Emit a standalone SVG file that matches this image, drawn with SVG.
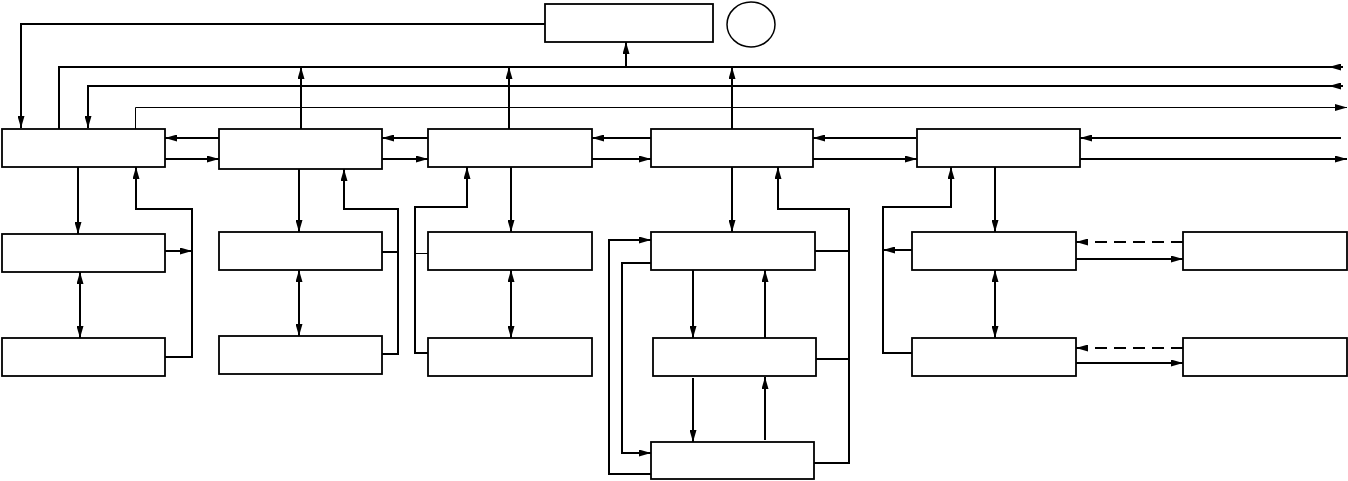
<svg xmlns="http://www.w3.org/2000/svg" width="1348" height="481" viewBox="0 0 1348 481">
<style>
.n{fill:#fff;stroke:#000;stroke-width:1.8}
.c{fill:none;stroke:#000;stroke-width:2}
.t{fill:none;stroke:#000;stroke-width:1}
.d{fill:none;stroke:#000;stroke-width:2;stroke-dasharray:12 7}
.a{marker-end:url(#ah)}
.b{marker-start:url(#ah);marker-end:url(#ah)}
</style>
<defs>
<marker id="ah" viewBox="0 0 12 7" refX="12" refY="3.5" markerWidth="12" markerHeight="7" markerUnits="userSpaceOnUse" orient="auto-start-reverse">
<path d="M0,0 L12,3.5 L0,7 z" fill="#000"/>
</marker>
</defs>
<rect width="1348" height="481" fill="#fff"/>
<g id="nodes">
<g id="top"><rect class="n" x="545" y="4" width="168" height="38"/></g>
<g id="circle"><ellipse cx="751" cy="24.5" rx="24" ry="22.5" fill="#fff" stroke="#000" stroke-width="1.5"/></g>
<g id="m1"><rect class="n" x="2" y="129" width="163" height="38"/></g>
<g id="m2"><rect class="n" x="219" y="129" width="163" height="40"/></g>
<g id="m3"><rect class="n" x="428" y="129" width="164" height="38"/></g>
<g id="m4"><rect class="n" x="651" y="129" width="162" height="38"/></g>
<g id="m5"><rect class="n" x="917" y="129" width="163" height="38"/></g>
<g id="s1a"><rect class="n" x="2" y="234" width="163" height="38"/></g>
<g id="s1b"><rect class="n" x="2" y="338" width="163" height="38"/></g>
<g id="s2a"><rect class="n" x="219" y="232" width="163" height="38"/></g>
<g id="s2b"><rect class="n" x="219" y="336" width="163" height="38"/></g>
<g id="s3a"><rect class="n" x="428" y="232" width="164" height="38"/></g>
<g id="s3b"><rect class="n" x="428" y="338" width="164" height="38"/></g>
<g id="s4a"><rect class="n" x="651" y="232" width="164" height="38"/></g>
<g id="s4b"><rect class="n" x="653" y="338" width="163" height="38"/></g>
<g id="s4c"><rect class="n" x="651" y="442" width="163" height="37"/></g>
<g id="s5a"><rect class="n" x="912" y="232" width="164" height="38"/></g>
<g id="s5b"><rect class="n" x="912" y="338" width="164" height="38"/></g>
<g id="s5c"><rect class="n" x="1183" y="232" width="164" height="38"/></g>
<g id="s5d"><rect class="n" x="1183" y="338" width="164" height="38"/></g>
</g>
<g id="connectors">
<path class="c a" d="M545,24 H21 V128"/>
<path class="c" d="M1343,67 H59 V129"/>
<path class="c a" d="M1343,67 H1329"/>
<path class="c a" d="M301,129 V67"/>
<path class="c a" d="M509,129 V67"/>
<path class="c a" d="M732,129 V67"/>
<path class="c a" d="M626,67 V42"/>
<path class="c a" d="M1343,86 H88 V128"/>
<path class="c a" d="M1343,86 H1329"/>
<path class="t a" d="M135.5,129 V107.5 H1347"/>
<path class="c a" d="M219,138 H165"/>
<path class="c a" d="M165,159 H219"/>
<path class="c a" d="M428,138 H382"/>
<path class="c a" d="M382,159 H428"/>
<path class="c a" d="M651,138 H592"/>
<path class="c a" d="M592,159 H651"/>
<path class="c a" d="M916,138 H813"/>
<path class="c a" d="M813,159 H917"/>
<path class="c a" d="M1341,138 H1080"/>
<path class="c a" d="M1080,159 H1347"/>
<path class="c a" d="M78,167 V234"/>
<path class="c b" d="M80,272 V338"/>
<path class="c a" d="M165,251 H192"/>
<path class="c a" d="M165,357 H192 V209 H136 V167"/>
<path class="c a" d="M299,169 V232"/>
<path class="c b" d="M299,270 V336"/>
<path class="c" d="M382,252 H398"/>
<path class="c a" d="M382,354 H398 V209 H344 V169"/>
<path class="c a" d="M511,167 V232"/>
<path class="c b" d="M511,270 V338"/>
<path class="t" d="M428,253.5 H415"/>
<path class="c a" d="M428,353 H415 V207 H467 V167"/>
<path class="c a" d="M732,167 V232"/>
<path class="c a" d="M693,270 V338"/>
<path class="c a" d="M765,338 V270"/>
<path class="c a" d="M693,378 V442"/>
<path class="c a" d="M765,440 V377"/>
<path class="c" d="M815,251 H849"/>
<path class="c" d="M816,359 H849"/>
<path class="c a" d="M814,463 H849 V209 H778 V167"/>
<path class="c a" d="M651,474 H609 V240 H651"/>
<path class="c a" d="M651,263 H622 V453 H651"/>
<path class="c a" d="M995,167 V232"/>
<path class="c b" d="M995,270 V338"/>
<path class="c a" d="M912,250 H883"/>
<path class="c a" d="M912,353 H883 V207 H951 V167"/>
<path class="d a" d="M1183,242 H1076"/>
<path class="c a" d="M1076,259 H1183"/>
<path class="d a" d="M1183,348 H1076"/>
<path class="c a" d="M1076,363 H1183"/>
</g>
</svg>
